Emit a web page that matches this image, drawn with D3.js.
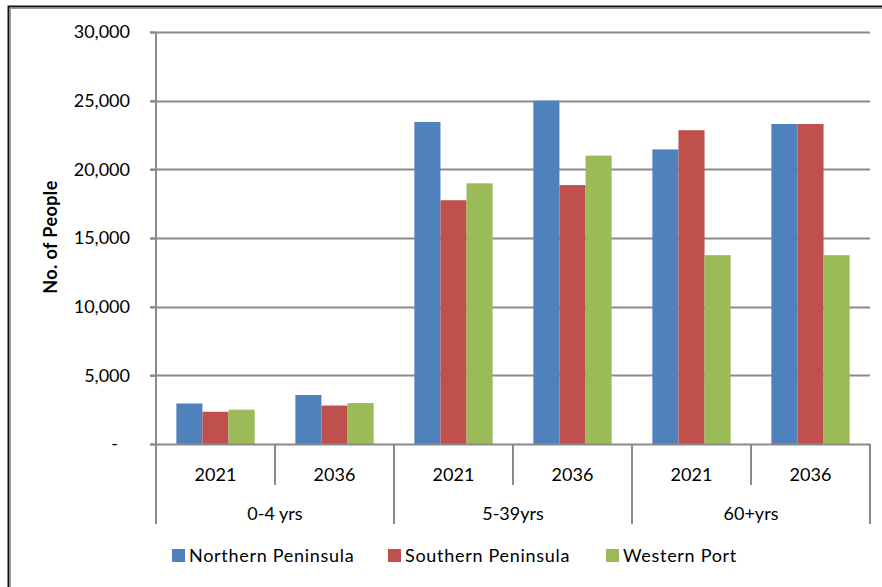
<!DOCTYPE html>
<html>
<head>
<meta charset="utf-8">
<script src="https://cdn.jsdelivr.net/npm/d3@7/dist/d3.min.js"></script>
<style>
  html, body { margin: 0; padding: 0; background: #fff; }
  svg { display: block; }
  text { font-family: Lato, "Open Sans", sans-serif; fill: #000; }
</style>
</head>
<body>
<svg id="chart" width="882" height="587"></svg>
<script>
// Age groups and projection years
const ageGroups = ["0-4 yrs", "5-39yrs", "60+yrs"];
const years = ["2021", "2036"];
// Series names and colours
const seriesNames = ["Northern Peninsula", "Southern Peninsula", "Western Port"];
const seriesColors = ["#4F81BD", "#C0504D", "#9BBB59"];
// Values per (age group, year) in order: 0-4 2021, 0-4 2036, 5-39 2021, 5-39 2036, 60+ 2021, 60+ 2036
const northern = [2950, 3570, 23450, 25000, 21450, 23300];
const southern = [2350, 2800, 17750, 18850, 22850, 23300];
const western  = [2500, 2980, 18980, 21000, 13750, 13750];
const seriesValues = [northern, southern, western];
// Value axis ticks
const yTickValues = [0, 5000, 10000, 15000, 20000, 25000, 30000];
const yTickLabels = ["-", "5,000", "10,000", "15,000", "20,000", "25,000", "30,000"];

const svg = d3.select("#chart");
const plotLeft = 156, plotRight = 870, plotTop = 32, plotBottom = 444;
const grid = "#8a8a8a";
const fontSize = 18;

// outer frame (left and top edges)
svg.append("path")
  .attr("d", "M8.5,587 V6.5 H882")
  .attr("fill", "none").attr("stroke", "#111").attr("stroke-width", 2);
svg.append("path")
  .attr("d", "M10.5,587 V8.5 H882")
  .attr("fill", "none").attr("stroke", "#999").attr("stroke-width", 1);

const slots = [];
ageGroups.forEach(g => years.forEach(yr => slots.push(g + "|" + yr)));

const x = d3.scaleBand().domain(slots).range([plotLeft, plotRight]).paddingInner(0).paddingOuter(0);
const y = d3.scaleLinear().domain([0, 30000]).range([plotBottom, plotTop]);
const inner = d3.scaleBand().domain(d3.range(seriesNames.length))
  .range([0, x.bandwidth()]).paddingInner(0).paddingOuter(0.78);

// gridlines
svg.append("g").selectAll("line").data(yTickValues.filter(v => v > 0)).join("line")
  .attr("x1", plotLeft - 6).attr("x2", plotRight)
  .attr("y1", d => Math.round(y(d)) + 0.5).attr("y2", d => Math.round(y(d)) + 0.5)
  .attr("stroke", grid).attr("stroke-width", 2);

// bars
const rows = [];
slots.forEach((s, i) => seriesValues.forEach((vals, k) => rows.push({ slot: s, k, v: vals[i] })));
svg.append("g").selectAll("rect").data(rows).join("rect")
  .attr("x", d => x(d.slot) + inner(d.k))
  .attr("width", inner.bandwidth())
  .attr("y", d => y(d.v))
  .attr("height", d => y(0) - y(d.v))
  .attr("fill", d => seriesColors[d.k]);

// value axis
const yAxis = d3.axisLeft(y).tickValues(yTickValues)
  .tickFormat((d, i) => yTickLabels[i]).tickSize(6).tickPadding(20);
const gy = svg.append("g").attr("transform", `translate(${plotLeft},0)`).call(yAxis);
gy.select(".domain").attr("stroke", grid).attr("stroke-width", 2).attr("d", `M0,${plotTop}V${plotBottom}`);
gy.selectAll(".tick line").attr("stroke", grid).attr("stroke-width", 2);
gy.selectAll(".tick text").attr("font-size", fontSize).attr("font-family", "Lato, sans-serif")
  .attr("dx", (d, i) => yTickLabels[i] === "-" ? -12 : 0);

// category axis baseline
svg.append("line").attr("x1", plotLeft - 6).attr("x2", plotRight)
  .attr("y1", plotBottom + 0.5).attr("y2", plotBottom + 0.5)
  .attr("stroke", grid).attr("stroke-width", 2);

// year and group separators
const gx = svg.append("g");
slots.forEach((s, i) => {
  const xs = x(s);
  const isGroup = i % 2 === 0;
  gx.append("line").attr("x1", xs).attr("x2", xs).attr("y1", plotBottom)
    .attr("y2", isGroup ? 524 : 485).attr("stroke", grid).attr("stroke-width", 2);
});
gx.append("line").attr("x1", plotRight).attr("x2", plotRight).attr("y1", plotBottom).attr("y2", 524)
  .attr("stroke", grid).attr("stroke-width", 2);

// year labels
gx.selectAll("text.yr").data(slots).join("text").attr("class", "yr")
  .attr("x", d => x(d) + x.bandwidth() / 2).attr("y", 481)
  .attr("text-anchor", "middle").attr("font-size", fontSize)
  .text(d => d.split("|")[1]);

// age group labels
gx.selectAll("text.grp").data(ageGroups).join("text").attr("class", "grp")
  .attr("x", g => x(g + "|" + years[0]) + x.bandwidth())
  .attr("y", 520).attr("text-anchor", "middle").attr("font-size", fontSize)
  .text(g => g);

// axis title
svg.append("text")
  .attr("transform", "translate(57,237) rotate(-90)")
  .attr("text-anchor", "middle").attr("font-size", fontSize).attr("font-weight", "bold")
  .attr("letter-spacing", 0.4)
  .text("No. of People");

// legend
const legendX = [172, 388, 606];
const lg = svg.append("g").selectAll("g").data(seriesNames).join("g")
  .attr("transform", (d, i) => `translate(${legendX[i]},549)`);
lg.append("rect").attr("width", 13).attr("height", 13).attr("fill", (d, i) => seriesColors[i]);
lg.append("text").attr("x", 17).attr("y", 13).attr("font-size", fontSize)
  .attr("letter-spacing", 0.7).text(d => d);
</script>
</body>
</html>
